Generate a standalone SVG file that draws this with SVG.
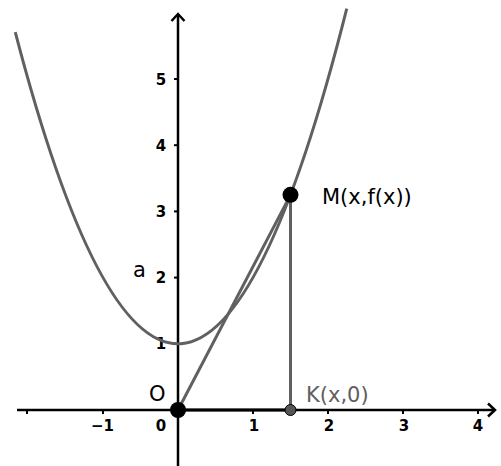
<svg xmlns="http://www.w3.org/2000/svg" width="501" height="466" viewBox="0 0 501 466">
<style>
.axis{stroke:#000;stroke-width:2.5;fill:none}
.tick{stroke:#000;stroke-width:2}
.num{font-family:"DejaVu Sans",sans-serif;font-weight:bold;font-size:15px;fill:#000}
.lbl{font-family:"DejaVu Sans",sans-serif;font-size:21px;fill:#000}
.gray{stroke:#606060;stroke-width:3;fill:none}
</style>
<rect width="501" height="466" fill="#fff"/>
<g id="axes">
<line class="axis" x1="17" y1="410" x2="494" y2="410"/>
<polyline class="axis" points="488,403.5 495,410 488,416.5"/>
<line class="axis" x1="178" y1="466" x2="178" y2="15"/>
<polyline class="axis" points="171.5,21 178,14 184.5,21"/>
<g id="xticks">
<line class="tick" x1="27" y1="410" x2="27" y2="414"/>
<line class="tick" x1="103" y1="410" x2="103" y2="414"/>
<line class="tick" x1="253" y1="410" x2="253" y2="414"/>
<line class="tick" x1="328" y1="410" x2="328" y2="414"/>
<line class="tick" x1="403" y1="410" x2="403" y2="414"/>
<line class="tick" x1="478" y1="410" x2="478" y2="414"/>
</g>
<g id="yticks">
<line class="tick" x1="174" y1="343.8" x2="178" y2="343.8"/>
<line class="tick" x1="174" y1="277.6" x2="178" y2="277.6"/>
<line class="tick" x1="174" y1="211.4" x2="178" y2="211.4"/>
<line class="tick" x1="174" y1="145.2" x2="178" y2="145.2"/>
<line class="tick" x1="174" y1="79" x2="178" y2="79"/>
</g>
<g id="xlabels" text-anchor="middle">
<text class="num" x="102.5" y="431">−1</text>
<text class="num" x="161" y="431">0</text>
<text class="num" x="254" y="431">1</text>
<text class="num" x="329" y="431">2</text>
<text class="num" x="404" y="431">3</text>
<text class="num" x="478" y="431">4</text>
</g>
<g id="ylabels" text-anchor="middle">
<text class="num" x="161" y="349">1</text>
<text class="num" x="161" y="283">2</text>
<text class="num" x="161" y="217">3</text>
<text class="num" x="161" y="151">4</text>
<text class="num" x="161" y="85">5</text>
</g>
</g>
<g id="curve">
<path class="gray" d="M15.25,32.1 Q181,667 346.75,8.7"/>
<text class="lbl" x="133" y="277">a</text>
</g>
<g id="connectors">
<line class="gray" x1="178" y1="410" x2="290.5" y2="194.85"/>
<line class="gray" x1="290.5" y1="194.85" x2="290.5" y2="410"/>
<line stroke="#000" stroke-width="3" x1="178" y1="410" x2="290.5" y2="410"/>
</g>
<g id="O">
<circle cx="178" cy="410" r="8" fill="#000"/>
<text class="lbl" x="149" y="401">O</text>
</g>
<g id="M">
<circle cx="290.5" cy="194.85" r="8" fill="#000"/>
<text class="lbl" x="322" y="204">M(x,f(x))</text>
</g>
<g id="K">
<circle cx="290.5" cy="410" r="5.5" fill="#555" stroke="#000" stroke-width="1"/>
<text class="lbl" x="306" y="402" fill="#606060" style="fill:#606060">K(x,0)</text>
</g>
</svg>
